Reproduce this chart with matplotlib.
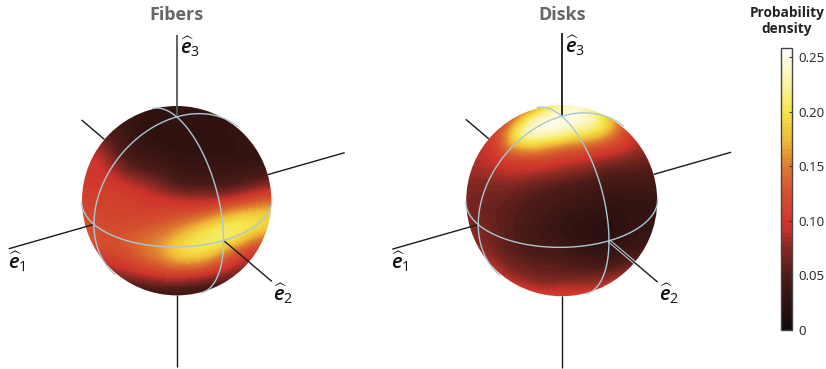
import numpy as np
import matplotlib
matplotlib.use('Agg')
import matplotlib.pyplot as plt
from matplotlib.colors import LinearSegmentedColormap, Normalize
from matplotlib.cm import ScalarMappable
from matplotlib.patches import Circle

plt.rcParams['font.family'] = ['Open Sans', 'DejaVu Sans']
plt.rcParams['mathtext.fontset'] = 'custom'
plt.rcParams['mathtext.it'] = 'Open Sans:italic:semibold'
plt.rcParams['mathtext.rm'] = 'Open Sans'

W, H = 826, 369
VMAX = 0.2587

# density, on a 15x15 grid over each sphere's bounding box (top row first)
fibers = [
    [.03, .03, .03, .03, .03, .03, .03, .03, .03, .03, .03, .03, .03, .03, .03],
    [.04, .04, .04, .035, .03, .025, .025, .025, .025, .025, .025, .03, .03, .035, .035],
    [.055, .055, .05, .04, .03, .025, .025, .025, .025, .025, .025, .03, .03, .03, .03],
    [.09, .085, .065, .045, .035, .03, .03, .025, .025, .025, .025, .025, .03, .03, .03],
    [.10, .10, .08, .055, .04, .04, .035, .03, .03, .03, .03, .03, .03, .03, .03],
    [.10, .10, .095, .08, .065, .055, .05, .04, .035, .035, .035, .035, .04, .04, .05],
    [.105, .105, .105, .10, .095, .085, .07, .055, .05, .05, .05, .05, .06, .07, .08],
    [.11, .11, .11, .11, .105, .10, .10, .095, .09, .09, .09, .10, .115, .13, .14],
    [.12, .115, .11, .11, .11, .11, .115, .12, .125, .135, .155, .175, .185, .19, .19],
    [.13, .125, .12, .12, .125, .13, .14, .15, .17, .19, .205, .215, .215, .20, .19],
    [.13, .13, .125, .13, .14, .15, .16, .185, .20, .21, .22, .205, .175, .14, .13],
    [.11, .11, .11, .12, .135, .15, .165, .19, .20, .195, .17, .13, .105, .09, .09],
    [.09, .09, .09, .095, .105, .12, .13, .14, .14, .13, .11, .09, .07, .07, .07],
    [.05, .05, .05, .06, .065, .07, .075, .075, .07, .06, .055, .05, .05, .05, .05],
    [.03, .03, .03, .03, .03, .03, .03, .03, .03, .03, .03, .03, .03, .03, .03],
]
disks = [
    [.10, .10, .10, .10, .11, .13, .19, .22, .24, .22, .15, .11, .09, .08, .08],
    [.10, .10, .10, .11, .17, .24, .26, .26, .26, .25, .22, .17, .11, .09, .08],
    [.10, .10, .10, .16, .24, .26, .25, .24, .22, .21, .19, .15, .11, .09, .08],
    [.09, .09, .10, .165, .185, .185, .17, .155, .145, .135, .125, .11, .095, .08, .07],
    [.09, .09, .095, .105, .11, .115, .11, .10, .095, .09, .08, .075, .07, .065, .06],
    [.08, .08, .085, .09, .09, .085, .08, .075, .07, .065, .055, .05, .05, .05, .05],
    [.07, .07, .07, .07, .065, .06, .055, .05, .045, .04, .04, .04, .04, .04, .04],
    [.07, .065, .065, .06, .055, .05, .045, .04, .04, .035, .03, .03, .03, .03, .03],
    [.07, .065, .06, .055, .05, .045, .04, .035, .03, .03, .025, .025, .03, .03, .03],
    [.075, .07, .065, .055, .05, .04, .035, .03, .025, .025, .02, .025, .03, .03, .03],
    [.08, .075, .065, .055, .05, .04, .04, .035, .03, .025, .02, .025, .03, .035, .04],
    [.09, .085, .07, .06, .055, .05, .05, .045, .04, .035, .03, .035, .04, .05, .05],
    [.10, .10, .10, .07, .065, .06, .06, .055, .055, .05, .05, .055, .075, .07, .07],
    [.11, .11, .11, .10, .085, .075, .07, .075, .075, .075, .085, .10, .09, .09, .09],
    [.12, .12, .12, .12, .12, .11, .11, .11, .11, .11, .11, .11, .11, .11, .11],
]

cmap_levels = [0, .05, .075, .095, .125, .15, .175, .20, .225, .25, .2587]
cmap_colors = ['#120a0a', '#4e1c18', '#8a2a24', '#cf332c', '#d4502e', '#dd7a30',
               '#efbb38', '#f5e448', '#faf29a', '#fffbe0', '#ffffff']
cbar_ticks = [0, .05, .10, .15, .20, .25]
cbar_labels = ['0', '0.05', '0.10', '0.15', '0.20', '0.25']

# projected unit vectors of e1, e2, e3 (x right, y up)
E1 = np.array([-.874, -.25])
E2 = np.array([.495, -.42])
E3 = np.array([0, .885])
DEPTH = np.array([.42, .76, .465])
AXIS_LEN = 2.03
E3_LEN = 1.98

cmap = LinearSegmentedColormap.from_list(
    'density', [(v / VMAX, c) for v, c in zip(cmap_levels, cmap_colors)], N=64)
norm = Normalize(0, VMAX)

fig = plt.figure(figsize=(W / 100, H / 100), dpi=100, facecolor='white')
ax = fig.add_axes([0, 0, 1, 1])
ax.set_xlim(0, W)
ax.set_ylim(H, 0)
ax.axis('off')


def to_px(cx, cy, r, v):
    return cx + r * v[0], cy - r * v[1]


def draw_axis(cx, cy, r, v, start, end, color='#1a1a1a', lw=1.0, z=3):
    x0, y0 = to_px(cx, cy, r, v * start)
    x1, y1 = to_px(cx, cy, r, v * end)
    ax.plot([x0, x1], [y0, y1], color=color, lw=lw, solid_capstyle='butt', zorder=z)


def great_circle(cx, cy, r, a, b, da, db):
    # circle through unit vectors a and b; only the side facing the viewer
    t = np.linspace(0, 2 * np.pi, 721)
    pts = np.outer(np.cos(t), a) + np.outer(np.sin(t), b)
    front = np.cos(t) * da + np.sin(t) * db
    pts[front < 0] = np.nan
    ax.plot(cx + r * pts[:, 0], cy - r * pts[:, 1], color='#a8c8d2', lw=1.0, zorder=5)


def draw_sphere(cx, cy, r, values, title, e3_color, e2_halo):
    half = r / 14
    im = ax.imshow(values, extent=(cx - r - half, cx + r + half, cy + r + half, cy - r - half),
                   cmap=cmap, norm=norm, interpolation='bicubic', aspect='auto', zorder=2)
    im.set_clip_path(Circle((cx, cy), r, transform=ax.transData))

    great_circle(cx, cy, r, E1, E2, DEPTH[0], DEPTH[1])
    great_circle(cx, cy, r, E1, E3, DEPTH[0], DEPTH[2])
    great_circle(cx, cy, r, E2, E3, DEPTH[1], DEPTH[2])

    for v, length in ((E1, AXIS_LEN), (E2, AXIS_LEN), (E3, E3_LEN)):
        edge = 1 / np.hypot(*v)
        if v is E3:
            draw_axis(cx, cy, r, v, 1, length, color=e3_color, lw=1.3)
        else:
            draw_axis(cx, cy, r, v, 1, length)
        draw_axis(cx, cy, r, v, -edge, -length)
    if e2_halo:
        # pale edge beside the e2 axis where it crosses the dark surface
        draw_axis(cx, cy, r, E2, 1, 1 / np.hypot(*E2), color='#d5dfe2', lw=2.4, z=2.5)

    ax.text(cx, 15.5, title, ha='center', va='center', fontsize=13, fontweight='bold', color='#666666')
    for v, lab, length, dx, dy in ((E1, '1', AXIS_LEN, 8, 13), (E2, '2', AXIS_LEN, 11, 12), (E3, '3', E3_LEN, 13, 12)):
        x, y = to_px(cx, cy, r, v * length)
        ax.text(x + dx, y + dy, r'$\widehat{e}_{' + lab + '}$',
                ha='center', va='center', fontsize=14.5, color='#111111')


draw_sphere(176.7, 200.7, 94.7, fibers, 'Fibers', '#555555', False)
draw_sphere(561.7, 200.7, 95.5, disks, 'Disks', '#1a1a1a', True)

cax = fig.add_axes([781 / W, 1 - 330 / H, 11 / W, 282 / H])
cb = fig.colorbar(ScalarMappable(norm=norm, cmap=cmap), cax=cax)
cb.set_ticks(cbar_ticks, labels=cbar_labels)
cb.ax.tick_params(direction='in', length=2, width=.8, labelsize=9.6, pad=4.5, color='#333333', labelcolor='#222222')
cb.outline.set_edgecolor('#444444')
cb.outline.set_linewidth(1.0)
ax.text(787, 21, 'Probability\ndensity', ha='center', va='center', fontsize=9.8, fontweight='bold',
        color='#222222', linespacing=1.15)

fig.savefig('out.png', dpi=100, facecolor='white')
